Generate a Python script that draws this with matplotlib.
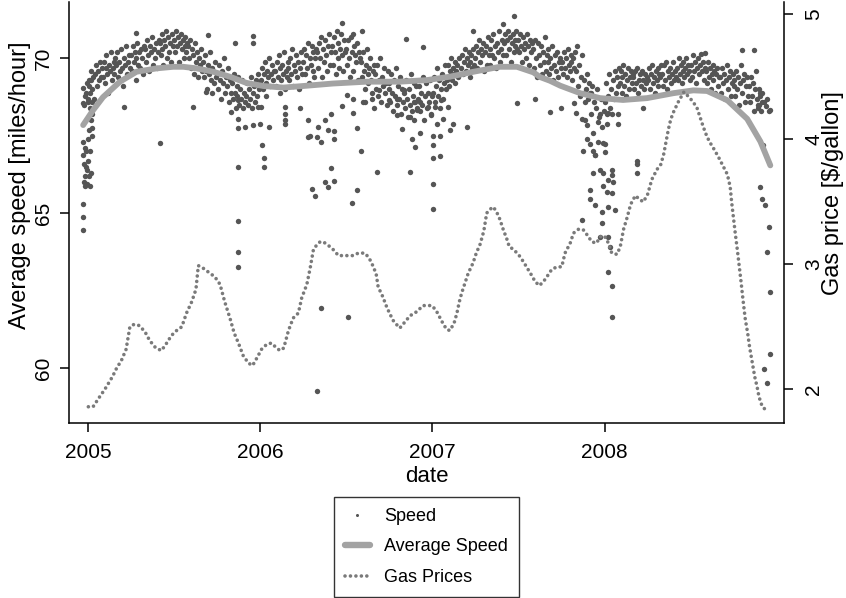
import numpy as np
import pandas as pd
import matplotlib
matplotlib.use("Agg")
import matplotlib.pyplot as plt
from matplotlib.lines import Line2D

plt.rcParams['font.family'] = ['Liberation Sans', 'DejaVu Sans']

# ---------------- data ----------------
# daily speeds (dense band), 15 readings per month
speed_2005 = [
    [68.6, 69.3, 68.9, 69.6, 69.0, 69.4, 68.7, 69.5, 69.8, 69.1, 69.6, 69.3, 69.9, 69.4, 69.7],
    [69.4, 69.9, 69.2, 69.7, 70.1, 69.5, 68.9, 69.8, 69.6, 70.2, 69.3, 69.7, 69.9, 69.5, 70.0],
    [69.8, 70.2, 69.4, 69.9, 69.6, 70.3, 69.7, 69.1, 70.0, 69.8, 70.4, 69.5, 69.9, 70.1, 69.7],
    [70.1, 69.6, 70.4, 69.9, 70.2, 69.3, 70.0, 70.5, 69.8, 70.2, 69.7, 70.3, 70.0, 69.5, 70.4],
    [70.3, 69.9, 70.6, 70.1, 69.6, 70.4, 70.2, 70.7, 69.8, 70.3, 70.0, 70.5, 69.7, 70.2, 70.6],
    [70.5, 70.1, 70.8, 70.3, 69.8, 70.6, 70.4, 70.9, 70.0, 70.7, 70.2, 70.5, 69.9, 70.8, 70.4],
    [70.6, 70.2, 70.9, 70.4, 70.7, 69.9, 70.5, 70.8, 70.3, 70.6, 70.0, 70.7, 70.4, 70.2, 70.5],
    [70.4, 70.0, 70.6, 69.7, 70.3, 70.1, 69.5, 70.5, 69.9, 70.2, 69.4, 70.0, 69.8, 70.3, 69.6],
    [69.9, 69.4, 70.1, 69.6, 69.0, 69.8, 69.5, 70.2, 69.3, 69.7, 68.9, 69.6, 69.2, 69.9, 69.4],
    [69.5, 69.0, 69.8, 69.3, 68.7, 69.6, 69.2, 70.0, 68.9, 69.4, 69.1, 69.7, 68.6, 69.3, 68.9],
    [69.2, 68.7, 69.5, 68.9, 68.4, 69.1, 68.8, 69.4, 68.5, 69.0, 68.7, 69.3, 68.4, 68.9, 68.6],
    [68.8, 69.2, 68.5, 69.0, 68.7, 69.4, 68.4, 68.9, 69.1, 68.6, 69.3, 68.8, 69.5, 69.0, 69.2],
]
speed_2006 = [
    [69.3, 69.7, 69.0, 69.5, 69.9, 69.2, 68.8, 69.6, 69.4, 70.0, 69.1, 69.5, 69.8, 69.3, 69.6],
    [69.6, 69.1, 69.9, 69.4, 70.1, 68.9, 69.7, 69.3, 69.8, 69.5, 70.2, 69.0, 69.6, 69.4, 69.9],
    [69.7, 69.3, 70.0, 69.5, 70.3, 69.1, 69.8, 69.6, 70.1, 69.4, 69.9, 69.0, 69.7, 70.2, 69.5],
    [69.9, 70.3, 69.5, 70.1, 69.7, 70.5, 69.2, 70.0, 69.8, 70.4, 69.6, 70.2, 69.4, 70.0, 70.3],
    [70.2, 69.7, 70.5, 70.0, 70.7, 69.4, 70.3, 69.9, 70.6, 70.1, 69.6, 70.4, 70.8, 69.8, 70.2],
    [70.4, 69.8, 70.7, 70.2, 69.5, 70.9, 70.0, 70.5, 69.7, 70.3, 70.8, 70.1, 69.6, 70.6, 70.2],
    [70.3, 69.8, 70.6, 70.0, 69.4, 70.7, 70.2, 69.6, 70.4, 70.1, 69.9, 70.5, 69.3, 70.2, 70.0],
    [69.9, 69.4, 70.2, 69.6, 69.0, 69.8, 70.3, 69.5, 69.2, 69.7, 70.0, 69.3, 68.9, 69.6, 69.8],
    [69.5, 69.0, 69.8, 68.8, 69.3, 70.0, 68.6, 69.4, 69.1, 69.7, 68.9, 69.2, 68.5, 69.6, 69.0],
    [69.2, 68.6, 69.5, 68.9, 68.3, 69.3, 68.8, 69.7, 68.5, 69.1, 68.7, 69.4, 68.2, 69.0, 68.6],
    [68.9, 68.4, 69.3, 68.7, 68.1, 69.0, 68.5, 69.5, 68.3, 68.8, 69.2, 68.0, 68.6, 69.1, 68.4],
    [68.7, 69.1, 68.3, 68.9, 68.5, 69.4, 68.0, 68.8, 69.2, 68.4, 68.9, 68.6, 69.3, 68.2, 68.8],
]
speed_2007 = [
    [68.9, 69.4, 68.6, 69.1, 69.7, 68.8, 69.3, 68.4, 69.0, 69.5, 68.7, 69.2, 69.8, 69.0, 69.3],
    [69.4, 69.8, 69.1, 69.6, 70.0, 69.3, 69.7, 69.5, 69.9, 69.2, 69.6, 69.8, 69.4, 70.0, 69.5],
    [69.7, 70.1, 69.5, 69.9, 70.3, 69.6, 70.0, 69.8, 70.2, 69.4, 69.9, 70.1, 69.7, 70.3, 69.8],
    [70.0, 70.4, 69.7, 70.2, 70.6, 69.9, 70.3, 70.1, 70.5, 69.6, 70.2, 70.4, 69.8, 70.7, 70.1],
    [70.3, 69.8, 70.6, 70.1, 70.8, 70.0, 70.4, 69.7, 70.5, 70.2, 70.9, 69.9, 70.3, 70.6, 70.1],
    [70.5, 70.8, 70.1, 70.6, 70.9, 70.3, 70.7, 69.9, 70.5, 70.8, 70.2, 70.6, 70.4, 70.9, 70.3],
    [70.6, 70.2, 70.8, 70.4, 69.9, 70.7, 70.3, 70.5, 70.0, 70.8, 70.4, 69.8, 70.6, 70.2, 70.5],
    [70.3, 69.7, 70.6, 70.0, 69.4, 70.5, 70.1, 69.8, 70.4, 69.5, 70.2, 69.9, 70.7, 69.6, 70.1],
    [69.9, 70.3, 69.5, 70.0, 69.7, 70.4, 69.3, 69.8, 70.1, 69.6, 70.2, 69.4, 69.9, 70.0, 69.7],
    [69.9, 69.5, 70.2, 69.7, 70.0, 69.4, 70.3, 69.8, 69.6, 70.1, 69.9, 69.3, 70.0, 69.7, 70.2],
    [69.6, 70.4, 69.1, 69.8, 68.8, 69.4, 70.1, 68.9, 69.3, 68.6, 69.0, 69.5, 68.7, 69.2, 68.9],
    [68.9, 68.2, 69.1, 67.6, 68.6, 66.9, 68.4, 69.0, 67.3, 68.1, 66.4, 68.7, 67.8, 65.9, 68.3],
]
speed_2008 = [
    [68.6, 69.2, 67.9, 68.8, 69.5, 68.4, 69.0, 68.2, 69.3, 68.7, 69.6, 68.9, 69.4, 69.1, 69.7],
    [69.2, 69.6, 68.9, 69.4, 69.8, 69.1, 69.5, 68.8, 69.3, 69.7, 69.0, 69.4, 69.6, 69.2, 69.5],
    [69.4, 69.0, 69.6, 69.2, 69.7, 68.9, 69.3, 69.5, 69.1, 69.6, 69.3, 69.0, 69.5, 69.2, 69.4],
    [69.3, 69.7, 69.0, 69.5, 69.8, 69.2, 69.4, 68.9, 69.6, 69.3, 69.7, 69.1, 69.5, 69.4, 69.8],
    [69.5, 69.1, 69.8, 69.3, 69.9, 69.0, 69.6, 69.4, 69.7, 69.2, 69.5, 69.9, 69.3, 69.6, 69.4],
    [69.7, 69.3, 70.0, 69.5, 69.8, 69.2, 69.6, 69.9, 69.4, 69.7, 70.0, 69.5, 69.8, 69.6, 69.3],
    [69.8, 69.4, 70.1, 69.6, 69.9, 69.2, 69.7, 70.0, 69.5, 69.8, 70.15, 69.6, 69.9, 69.3, 69.7],
    [69.6, 69.2, 69.9, 69.4, 69.7, 69.0, 69.5, 69.8, 69.3, 69.6, 68.9, 69.5, 69.7, 69.1, 69.4],
    [69.4, 68.9, 69.7, 69.2, 69.5, 68.7, 69.3, 69.8, 69.0, 69.4, 69.6, 68.8, 69.2, 69.5, 69.1],
    [69.3, 68.8, 69.6, 69.0, 69.4, 68.5, 69.2, 69.8, 68.9, 69.3, 69.5, 68.6, 69.1, 69.4, 68.8],
    [69.1, 68.6, 69.4, 68.8, 69.2, 68.3, 69.0, 69.6, 68.7, 68.4, 69.0, 68.5, 68.9, 68.3, 68.6],
]
speed_years = [2005, 2006, 2007, 2008]

# scattered / outlying days: days since 2005-01-01 and speed
extra_days = [
    -10, -10, -10, -10, -10, -10, -10, -8, -8, -8, -6, -6, -6, -6, -4, -4, -4,
    -2, -2, -2, 0, 0, 0, 2, 2, 2, 4, 4, 4, 6, 6, 6, 8, 8, 8, 8,
    102, 153, 255, 349, 349, 312, 76, 223, 251, 304, 319,
    319, 319, 333, 349, 365, 384, 319, 319, 319, 319, 368, 374, 374, 361, 367,
    418, 418, 418, 418, 449, 466, 466, 485, 488, 471,
    474, 481, 486, 495, 495, 502, 502, 509, 509, 515, 515, 522, 522, 522,
    538, 552, 559, 562, 571, 571, 579, 587, 606, 612, 654, 665, 683, 686, 693, 704,
    732, 732, 732, 732, 732, 746, 746,
    683, 697, 721, 728, 735, 749, 753, 763, 704, 690, 669, 654, 637, 616, 602, 584, 562, 548,
    675, 710, 538, 580, 562, 767, 803, 739,
    774, 909, 948, 979, 902, 879, 817, 1029, 1002,
    1047, 1047, 1050, 1057, 1057, 1063, 1064, 1064, 1071, 1071, 1075, 1085, 1085, 1089, 1089,
    1096, 1096, 1100, 1103, 1103, 1103, 1103, 1103, 1107, 1110, 1110, 1110, 1110, 1117,
    1124, 1124, 1164, 1164, 1054, 1075, 1092, 1092, 1110, 1113, 1163, 1100, 1035, 1081,
    1425, 1428, 1435, 1444, 1439, 1446, 1446, 1446, 1432, 1439, 1430, 1386, 1412, 1308, 1177,
    1432, 1436, 1440, 1444, 1428, 1420, 1424,
]
extra_speed = [
    67.3, 66.9, 65.3, 64.9, 64.45, 68.55, 69.05, 66.6, 66.0, 68.5, 67.1, 66.2, 65.9, 68.8, 66.5, 67.0, 68.9,
    65.95, 66.4, 69.2, 66.7, 67.4, 68.7, 66.2, 67.7, 69.1, 65.9, 67.0, 68.4, 66.3, 68.0, 69.3, 67.5, 68.6, 68.2, 67.75,
    70.83, 67.28, 70.77, 70.72, 70.5, 70.5, 68.44, 68.44, 68.93, 68.28, 68.65,
    68.05, 67.75, 67.8, 67.85, 67.9, 67.8, 66.5, 64.76, 63.76, 63.28, 67.2, 66.8, 66.5, 68.43, 68.43,
    68.43, 68.2, 67.9, 68.0, 68.4, 68.0, 67.46, 67.46, 67.8, 67.5,
    65.8, 65.57, 59.26, 61.95, 67.3, 68.0, 66.0, 67.7, 65.84, 68.2, 66.45, 67.65, 67.4, 66.05,
    68.46, 61.65, 65.33, 68.25, 67.75, 65.75, 67.0, 68.6, 68.4, 66.34, 68.17, 67.73, 66.34, 67.4, 67.15, 67.6,
    67.5, 67.2, 66.8, 65.94, 65.13, 66.85, 67.5,
    68.1, 68.33, 68.44, 68.17, 68.44, 68.65, 68.06, 68.44, 68.6, 68.6, 68.98, 68.7, 68.65, 68.98, 68.7, 68.6, 68.7, 68.83,
    70.64, 70.37, 71.15, 70.88, 70.8, 67.7, 67.8, 67.9,
    67.9, 68.55, 68.7, 68.28, 71.36, 71.1, 70.9, 68.55, 68.4,
    68.06, 64.78, 67.0, 67.4, 67.85, 67.24, 65.75, 65.48, 67.0, 66.3, 65.27, 64.24, 68.2, 65.05, 64.68,
    67.24, 66.98, 68.2, 66.07, 65.22, 64.24, 63.1, 68.23, 63.92, 66.4, 65.65, 62.67, 61.65, 65.1,
    68.2, 67.9, 66.7, 66.3, 68.0, 66.9, 67.26, 66.3, 66.25, 66.02, 66.6, 65.7, 68.23, 67.95,
    65.84, 65.48, 65.27, 64.57, 63.76, 62.47, 60.46, 68.35, 59.97, 59.54, 67.2, 70.27, 70.27, 70.16, 68.4,
    68.6, 68.45, 68.7, 68.3, 68.9, 68.5, 68.8,
]

# smoothed average speed (days since 2005-01-01)
avg_days = [-10, 11, 32, 68, 103, 146, 181, 202, 230, 266, 301, 336, 372, 414, 456, 519, 591,
            661, 718, 767, 817, 873, 909, 944, 958, 979, 1001, 1043, 1085, 1134, 1185, 1241,
            1283, 1312, 1355, 1397, 1425, 1446]
avg_speed = [67.85, 68.33, 68.75, 69.25, 69.57, 69.68, 69.73, 69.73, 69.68, 69.57, 69.41, 69.21,
             69.11, 69.06, 69.11, 69.19, 69.25, 69.25, 69.30, 69.41, 69.57, 69.73, 69.73, 69.55,
             69.40, 69.28, 69.12, 68.88, 68.72, 68.66, 68.72, 68.88, 68.97, 68.95, 68.65, 68.05,
             67.32, 66.55]

# gas prices (days since 2005-01-01, $/gallon)
gas_days = [1, 11, 18, 25, 36, 52, 61, 71, 81, 85, 89, 98, 109, 121, 131, 144, 156, 167, 177, 188,
            199, 209, 220, 229, 234, 244, 262, 269, 280, 290, 301, 310, 319, 329, 340, 349, 358,
            368, 379, 389, 400, 407, 415, 425, 435, 446, 453, 464, 471, 478, 486, 492, 499, 517,
            531, 541, 552, 562, 573, 587, 596, 605, 611, 615, 625, 632, 639, 647, 656, 661, 672,
            683, 693, 702, 710, 729, 738, 745, 752, 760, 767, 776, 782, 787, 792, 799, 806, 816,
            823, 831, 837, 840, 845, 852, 859, 866, 873, 880, 888, 893, 902, 914, 923, 931, 939,
            948, 957, 969, 983, 994, 1004, 1011, 1022, 1029, 1039, 1049, 1057, 1068, 1078, 1085,
            1094, 1103, 1110, 1121, 1128, 1135, 1143, 1150, 1160, 1169, 1177, 1186, 1195, 1206,
            1214, 1220, 1225, 1230, 1235, 1241, 1251, 1263, 1276, 1290, 1297, 1304, 1312, 1319,
            1327, 1336, 1347, 1355, 1361, 1364, 1368, 1372, 1376, 1380, 1384, 1388, 1393, 1398,
            1402, 1408, 1413, 1418, 1422, 1429, 1438]
gas_price = [1.86, 1.86, 1.90, 1.94, 2.00, 2.10, 2.17, 2.23, 2.32, 2.41, 2.50, 2.52, 2.51, 2.46,
             2.39, 2.33, 2.31, 2.37, 2.43, 2.47, 2.50, 2.61, 2.70, 2.80, 2.99, 2.97, 2.92, 2.90,
             2.84, 2.70, 2.57, 2.45, 2.37, 2.27, 2.21, 2.19, 2.25, 2.32, 2.36, 2.37, 2.33, 2.31,
             2.33, 2.47, 2.57, 2.61, 2.73, 2.84, 2.97, 3.12, 3.16, 3.18, 3.18, 3.13, 3.07, 3.07,
             3.07, 3.07, 3.09, 3.09, 3.05, 2.98, 2.92, 2.82, 2.74, 2.67, 2.61, 2.55, 2.51, 2.49,
             2.54, 2.59, 2.61, 2.64, 2.67, 2.67, 2.63, 2.58, 2.53, 2.48, 2.47, 2.53, 2.61, 2.70,
             2.77, 2.85, 2.93, 3.01, 3.09, 3.16, 3.24, 3.29, 3.41, 3.44, 3.46, 3.42, 3.36, 3.28,
             3.20, 3.14, 3.12, 3.07, 3.02, 2.97, 2.92, 2.86, 2.83, 2.88, 2.96, 2.98, 2.98, 3.09,
             3.17, 3.25, 3.28, 3.28, 3.24, 3.18, 3.17, 3.22, 3.23, 3.17, 3.09, 3.08, 3.14, 3.28,
             3.38, 3.48, 3.55, 3.52, 3.50, 3.56, 3.68, 3.76, 3.80, 3.88, 3.98, 4.08, 4.16, 4.22,
             4.30, 4.38, 4.33, 4.26, 4.18, 4.10, 4.02, 3.97, 3.92, 3.86, 3.78, 3.72, 3.62, 3.50,
             3.37, 3.24, 3.12, 2.99, 2.86, 2.72, 2.56, 2.45, 2.34, 2.21, 2.10, 2.02, 1.94, 1.86, 1.83]

year_ticks = [2005, 2006, 2007, 2008]
left_ticks = [60, 65, 70]
right_ticks = [2, 3, 4, 5]

# ---------------- build dates ----------------
base = pd.Timestamp('2005-01-01')
sp_dates, sp_vals = [], []
for yr, months in zip(speed_years, [speed_2005, speed_2006, speed_2007, speed_2008]):
    for m, vals in enumerate(months, start=1):
        start = pd.Timestamp(yr, m, 1)
        nd = start.days_in_month
        n = len(vals)
        for i, v in enumerate(vals):
            sp_dates.append(start + pd.Timedelta(days=(i + 0.5) * nd / n))
            sp_vals.append(v)
for d, v in zip(extra_days, extra_speed):
    sp_dates.append(base + pd.Timedelta(days=d))
    sp_vals.append(v)

avg_dates = [base + pd.Timedelta(days=d) for d in avg_days]
gas_dates = [base + pd.Timedelta(days=d) for d in gas_days]

# ---------------- figure ----------------
W, H = 846, 598
fig = plt.figure(figsize=(W / 100, H / 100), dpi=100)
ax = fig.add_axes([69 / W, 1 - 423 / H, (784 - 69) / W, (423 - 2) / H])

speed_col = '#555555'
avg_col = '#a3a3a3'
gas_col = '#7a7a7a'
gas_style = (0, (0.01, 1.5))

ax.scatter(sp_dates, sp_vals, s=15, c=speed_col, linewidths=0, zorder=2)
ax.plot(avg_dates, avg_speed, color=avg_col, lw=4.2, solid_capstyle='round',
        solid_joinstyle='round', zorder=3)

ax.set_xlim(pd.Timestamp('2004-11-22'), pd.Timestamp('2009-01-15'))
ax.set_ylim(58.24, 71.82)
ax.set_xticks([pd.Timestamp(y, 1, 1) for y in year_ticks])
ax.set_xticklabels([str(y) for y in year_ticks])
ax.set_yticks(left_ticks)
ax.set_yticklabels([str(t) for t in left_ticks], rotation=90, va='center')

ax2 = ax.twinx()
ax2.plot(gas_dates, gas_price, color=gas_col, lw=2.6, linestyle=gas_style,
         dash_capstyle='round', zorder=4)
ax2.set_ylim(1.73, 5.10)
ax2.set_yticks(right_ticks)
ax2.set_yticklabels([str(t) for t in right_ticks], rotation=90, va='center')

for a in (ax, ax2):
    a.spines['top'].set_visible(False)
    for s in a.spines.values():
        s.set_linewidth(1.1)
ax.spines['right'].set_visible(False)
ax2.spines['left'].set_visible(False)
ax2.spines['bottom'].set_visible(False)

ax.tick_params(axis='x', direction='out', length=6.5, width=1.1, pad=8, labelsize=15)
ax.tick_params(axis='y', direction='out', length=6.5, width=1.1, pad=5, labelsize=15)
ax2.tick_params(axis='y', direction='out', length=6.5, width=1.1, pad=8, labelsize=15)

ax.set_xlabel('date', fontsize=16, labelpad=0)
ax.xaxis.set_label_coords(0.5, (423 - 487) / 421)
ax.xaxis.label.set_va('bottom')
ax.set_ylabel('Average speed [miles/hour]', fontsize=17)
ax.yaxis.set_label_coords((31 - 69) / 715, (423 - 185) / 421)
ax2.set_ylabel('Gas price [$/gallon]', fontsize=17)
ax2.yaxis.set_label_coords((822 - 69) / 715, (423 - 193) / 421)

handles = [
    Line2D([], [], linestyle='none', marker='o', markersize=2.2, color=speed_col, markeredgewidth=0),
    Line2D([], [], color=avg_col, lw=4.6, solid_capstyle='round'),
    Line2D([], [], color=gas_col, lw=2.6, linestyle=gas_style, dash_capstyle='round'),
]
leg = fig.legend(handles, ['Speed', 'Average Speed', 'Gas Prices'],
                 loc='upper center', bbox_to_anchor=(426.5 / W, 1 - 497 / H),
                 frameon=True, fancybox=False, edgecolor='black', fontsize=13,
                 handlelength=1.4, handletextpad=0.8, labelspacing=0.75,
                 borderpad=0.6, borderaxespad=0)
leg.get_frame().set_linewidth(1.0)

fig.savefig('out.png', dpi=100)
